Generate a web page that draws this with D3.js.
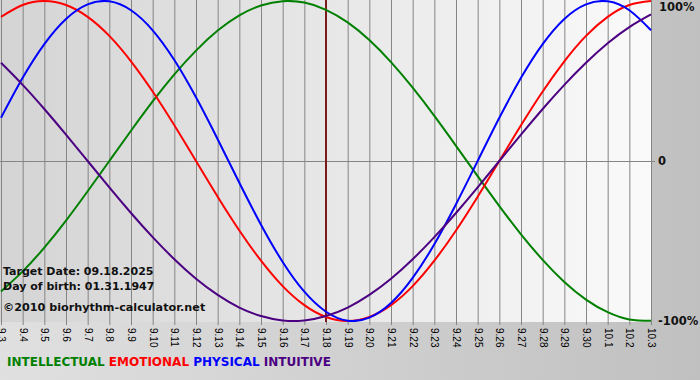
<!DOCTYPE html>
<html>
<head>
<meta charset="utf-8">
<script src="https://cdn.jsdelivr.net/npm/d3@7"></script>
<style>
  html, body { margin: 0; padding: 0; background: #d0d0d0; }
  svg { display: block; font-family: "DejaVu Sans", Verdana, sans-serif; }
</style>
</head>
<body>
<div id="chart"></div>
<script>
// Days shown on the x axis (month.day)
var dates = ["9.3","9.4","9.5","9.6","9.7","9.8","9.9","9.10","9.11","9.12","9.13","9.14","9.15","9.16","9.17",
             "9.18","9.19","9.20","9.21","9.22","9.23","9.24","9.25","9.26","9.27","9.28","9.29","9.30","10.1","10.2","10.3"];

// Cycle values per day, -1 .. 1
var intellectual = [-0.815,-0.690,-0.541,-0.372,-0.189,0.000,0.189,0.372,0.541,0.690,0.815,0.910,0.972,0.999,0.990,
                    0.945,0.866,0.756,0.618,0.458,0.282,0.095,-0.095,-0.282,-0.458,-0.618,-0.756,-0.866,-0.945,-0.990,-0.999];
var emotional    = [0.901,0.975,1.000,0.975,0.901,0.782,0.623,0.434,0.223,0.000,-0.223,-0.434,-0.623,-0.782,-0.901,
                    -0.975,-1.000,-0.975,-0.901,-0.782,-0.623,-0.434,-0.223,0.000,0.223,0.434,0.623,0.782,0.901,0.975,1.000];
var physical     = [0.270,0.520,0.731,0.888,0.979,0.998,0.942,0.817,0.631,0.398,0.136,-0.136,-0.398,-0.631,-0.817,
                    -0.942,-0.998,-0.979,-0.888,-0.731,-0.520,-0.270,0.000,0.270,0.520,0.731,0.888,0.979,0.998,0.942,0.817];
var intuitive    = [0.614,0.476,0.325,0.165,0.000,-0.165,-0.325,-0.476,-0.614,-0.736,-0.837,-0.916,-0.969,-0.997,-0.997,
                    -0.969,-0.916,-0.837,-0.736,-0.614,-0.476,-0.325,-0.165,0.000,0.165,0.325,0.476,0.614,0.736,0.837,0.916];

var yTickValues = [1, 0, -1];
var yTickLabels = ["100%", "0", "-100%"];
var targetDate = "9.18";

var seriesNames  = ["INTELLECTUAL", "EMOTIONAL", "PHYSICAL", "INTUITIVE"];
var seriesData   = [intellectual, emotional, physical, intuitive];
var seriesColors = ["#008000", "#ff0000", "#0000ff", "#4b0082"];

var width = 700,
    height = 380,
    plot = {left: 0, right: 652, top: 0, bottom: 322};

var svg = d3.select("#chart")
  .append("svg")
    .attr("width", width)
    .attr("height", height);

var defs = svg.append("defs");

var bgGrad = defs.append("linearGradient").attr("id", "bg");
bgGrad.append("stop").attr("offset", "0%").attr("stop-color", "#e0e0e0");
bgGrad.append("stop").attr("offset", "100%").attr("stop-color", "#c0c0c0");

var plotGrad = defs.append("linearGradient").attr("id", "plotbg");
plotGrad.append("stop").attr("offset", "0%").attr("stop-color", "#d4d4d4");
plotGrad.append("stop").attr("offset", "100%").attr("stop-color", "#fafafa");

defs.append("clipPath").attr("id", "clip")
  .append("rect")
    .attr("x", plot.left).attr("y", plot.top)
    .attr("width", plot.right - plot.left).attr("height", plot.bottom - plot.top);

svg.append("rect")
  .attr("width", width).attr("height", height)
  .attr("fill", "url(#bg)");

svg.append("rect")
  .attr("x", plot.left).attr("y", plot.top)
  .attr("width", plot.right - plot.left).attr("height", plot.bottom - plot.top)
  .attr("fill", "url(#plotbg)");

// Scales
var x = d3.scalePoint()
  .domain(dates)
  .range([1, 651]);

var y = d3.scaleLinear()
  .domain([-1, 1])
  .range([321, 1]);

// Vertical grid + rotated day labels
var xAxis = svg.append("g")
  .attr("transform", "translate(0," + (plot.bottom + 3) + ")")
  .call(d3.axisBottom(x).tickSize(-(plot.bottom + 3)).tickSizeOuter(0));

xAxis.select(".domain").remove();
xAxis.selectAll(".tick line").attr("stroke", "#858585");
xAxis.selectAll(".tick text")
  .attr("transform", "rotate(90)")
  .attr("x", 3)
  .attr("y", 0)
  .attr("dy", "0.35em")
  .style("text-anchor", "start")
  .attr("font-size", 10)
  .attr("fill", "#000");

// Zero line
svg.append("line")
  .attr("x1", 0).attr("x2", 655)
  .attr("y1", y(0) + 0.5).attr("y2", y(0) + 0.5)
  .attr("stroke", "#858585");

// Right side percent labels
svg.append("g")
  .selectAll("text")
  .data(yTickValues)
  .join("text")
    .attr("x", (d, i) => i === 0 ? 659 : (i === 1 ? 658 : 658))
    .attr("y", d => d === 1 ? 7 : y(d))
    .attr("dy", "0.35em")
    .attr("font-size", 11.5)
    .attr("font-weight", "bold")
    .attr("fill", "#111")
    .text((d, i) => yTickLabels[i]);

// Target date marker
svg.append("line")
  .attr("x1", x(targetDate)).attr("x2", x(targetDate))
  .attr("y1", 0).attr("y2", plot.bottom)
  .attr("stroke", "#7a1c1c")
  .attr("stroke-width", 2);

// Curves
var line = d3.line()
  .x((d, i) => x(dates[i]))
  .y(d => y(d))
  .curve(d3.curveNatural);

svg.append("g")
  .attr("clip-path", "url(#clip)")
  .selectAll("path")
  .data(seriesData)
  .join("path")
    .attr("fill", "none")
    .attr("stroke", (d, i) => seriesColors[i])
    .attr("stroke-width", 2)
    .attr("d", line);

// Info text
var info = svg.append("g")
  .attr("font-weight", "bold")
  .attr("fill", "#111");

info.append("text").attr("x", 3).attr("y", 275).attr("font-size", 11).text("Target Date: 09.18.2025");
info.append("text").attr("x", 3).attr("y", 290).attr("font-size", 11).text("Day of birth: 01.31.1947");
info.append("text").attr("x", 3).attr("y", 311).attr("font-size", 11.2).text("\u00a92010 biorhythm-calculator.net");

// Legend
var legend = svg.append("text")
  .attr("x", 7)
  .attr("y", 366)
  .attr("font-size", 12)
  .attr("font-weight", "bold");

seriesNames.forEach(function(name, i) {
  legend.append("tspan")
    .attr("fill", seriesColors[i])
    .text((i > 0 ? " " : "") + name);
});
</script>
</body>
</html>
